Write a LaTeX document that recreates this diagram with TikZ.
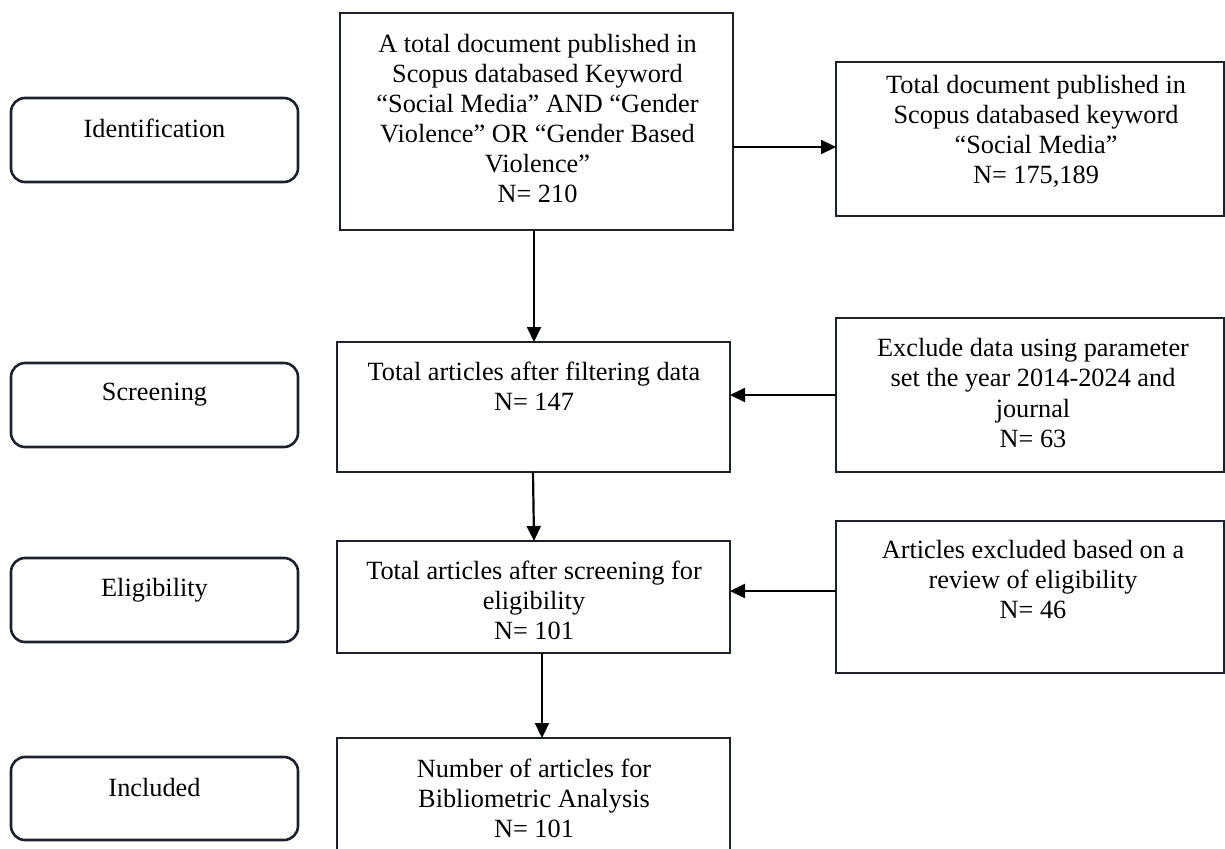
\documentclass[tikz,border=0pt]{standalone}
\usepackage{fontspec}
\setmainfont{Liberation Serif}
\usetikzlibrary{arrows.meta,calc}
\definecolor{edge}{RGB}{28,33,43}
\begin{document}
\begin{tikzpicture}[x=1pt,y=-1pt,
  box/.style={draw=edge,line width=2.6pt,rectangle,inner sep=0pt,outer sep=0pt},
  stage/.style={box,rounded corners=14pt},
  txt/.style={align=center,font=\fontsize{26.3}{30}\selectfont,inner sep=0pt,text=black},
  arr/.style={draw=black,line width=2.2pt,-{Triangle[length=15pt,width=14pt]}}]
\path[use as bounding box] (0,0) rectangle (1225,848);
\clip (0,0) rectangle (1225,848);

% stage boxes (left)
\node[stage,minimum width=287,minimum height=84] (L1) at (154.5,140) {};
\node[stage,minimum width=287,minimum height=84] (L2) at (154.5,405) {};
\node[stage,minimum width=287,minimum height=84] (L3) at (154.5,600) {};
\node[stage,minimum width=287,minimum height=83] (L4) at (154.5,798.5) {};
\node[txt] (L1t) at (154.5,128) {Identification};
\node[txt] (L2t) at (154.5,395) {Screening};
\node[txt] (L3t) at (154.5,590) {Eligibility};
\node[txt] (L4t) at (154.5,787) {Included};

% centre boxes
\node[box,minimum width=393,minimum height=217] (C1) at (536.5,121.5) {};
\node[box,minimum width=393,minimum height=130] (C2) at (533.5,407) {};
\node[box,minimum width=393,minimum height=112] (C3) at (533.5,597) {};
\node[box,minimum width=393,minimum height=132] (C4) at (533.5,804) {};
\node[txt] (C1t) at (537.5,119) {A total document published in\\Scopus databased Keyword\\“Social Media” AND “Gender\\Violence” OR “Gender Based\\Violence”\\N= 210};
\node[txt] (C2t) at (534,386) {Total articles after filtering data\\N= 147};
\node[txt] (C3t) at (534,600) {Total articles after screening for\\eligibility\\N= 101};
\node[txt] (C4t) at (534,798) {Number of articles for\\Bibliometric Analysis\\N= 101};

% right boxes
\node[box,minimum width=388,minimum height=154] (R1) at (1030,139) {};
\node[box,minimum width=388,minimum height=154] (R2) at (1030,395) {};
\node[box,minimum width=388,minimum height=152] (R3) at (1030,597) {};
\node[txt] (R1t) at (1036,131) {Total document published in\\Scopus databased keyword\\“Social Media”\\N= 175,189};
\node[txt] (R2t) at (1033,393) {Exclude data using parameter\\set the year 2014-2024 and\\journal\\N= 63};
\node[txt] (R3t) at (1033,579) {Articles excluded based on a\\review of eligibility\\N= 46};

% connectors
\coordinate (a1) at ($(C1.east)+(0,25.5)$);
\draw[arr] (a1) -- (a1 -| R1.west);
\draw[arr] (R2.west) -- (R2.west -| C2.east);
\coordinate (a3) at ($(R3.west)+(0,-6)$);
\draw[arr] (a3) -- (a3 -| C3.east);
\draw[arr] ([xshift=-2.5pt]C1.south) -- ([xshift=0.5pt]C2.north);
\draw[arr] ([xshift=-0.5pt]C2.south) -- ([xshift=0.5pt]C3.north);
\draw[arr] ([xshift=8.5pt]C3.south) -- ([xshift=8.5pt]C4.north);
\end{tikzpicture}
\end{document}
